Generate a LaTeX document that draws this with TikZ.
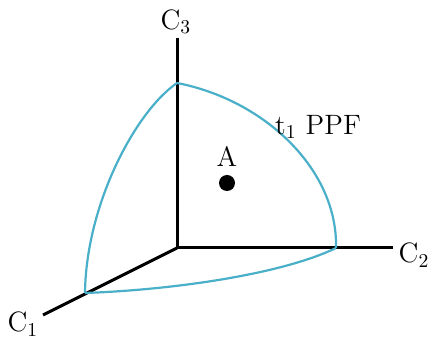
\documentclass[tikz,border=0pt]{standalone}
\usepackage{tikz}
\usetikzlibrary{positioning}

\begin{document}
\begin{tikzpicture}[x=0.5pt, y=-0.5pt]
				\definecolor{ppfblue}{HTML}{4AAFC8}
				\tikzset{axis/.style={line width=1.5pt, black},
					ppf/.style={line width=1.1pt, ppfblue},
					lbl/.style={font=\fontsize{14}{16}\selectfont, inner sep=0pt}}
				\useasboundingbox (0,0) rectangle (434,341);
				%% Axes ------
				\coordinate (O) at (177,248);
				\coordinate (E1) at (43,315);
				\coordinate (E2) at (393,248);
				\coordinate (E3) at (177,38);
				\draw[axis] (O) -- (E1);
				\draw[axis] (O) -- (E2);
				\draw[axis] (O) -- (E3);
				\node[lbl] (C1) at (23,324) {C\textsubscript{1}};
				\node[lbl] (C2) at (414,255) {C\textsubscript{2}};
				\node[lbl] (C3) at (176,22) {C\textsubscript{3}};
				%% Frontier ---------
				\coordinate (P1) at (85,293);
				\coordinate (P2) at (336,248);
				\coordinate (P3) at (177,83);
				\draw[ppf] (P3) .. controls (265,100) and (338,170) .. (P2);
				\draw[ppf] (P3) .. controls (135,112) and (86,205) .. (P1);
				\draw[ppf] (P1) .. controls (170,290) and (280,275) .. (P2);
				\node[lbl] (ppflabel) at (318,127) {t\textsubscript{1} PPF};
				%% Point A ---------
				\node[circle, fill=black, minimum size=8pt, inner sep=0pt] (A) at (227,183) {};
				\node[lbl, above=4pt of A] (Alabel) {A};
			\end{tikzpicture}
\end{document}
